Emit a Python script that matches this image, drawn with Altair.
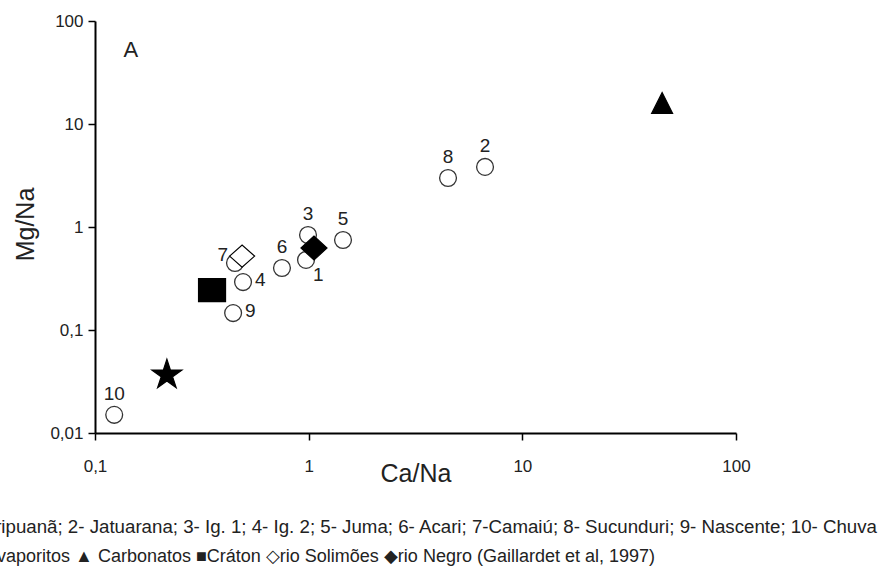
import altair as alt
import pandas as pd

# ---- data ----
sample_ids = ["1", "2", "3", "4", "5", "6", "7", "8", "9", "10"]
sample_ca = [0.972, 6.69, 0.993, 0.493, 1.448, 0.750, 0.452, 4.49, 0.443, 0.123]
sample_mg = [0.479, 3.83, 0.836, 0.292, 0.748, 0.400, 0.447, 2.99, 0.146, 0.0150]
label_side = ["below-right", "top", "top", "right", "top", "top", "left", "top", "right", "top"]

ref_names = ["Evaporitos", "Carbonatos", "Cráton", "rio Solimões", "rio Negro"]
ref_ca = [0.217, 45.1, 0.353, 0.488, 1.059]
ref_mg = [0.0366, 16.0, 0.244, 0.522, 0.625]

x_ticks = [0.1, 1, 10, 100]
y_ticks = [0.01, 0.1, 1, 10, 100]

panel_letter = ["A"]
panel_ca = [0.147]
panel_mg = [52.3]

footnote_1 = ["1- Aripuanã; 2- Jatuarana; 3- Ig. 1; 4- Ig. 2; 5- Juma; 6- Acari; 7-Camaiú; 8- Sucunduri; 9- Nascente; 10- Chuva"]
footnote_2 = ["★ Evaporitos ▲ Carbonatos ■Cráton ◇rio Solimões ◆rio Negro (Gaillardet et al, 1997)"]

# ---- styles ----
FONT = "Liberation Sans"
STAR = "M0,-1L0.2245,-0.309L0.951,-0.309L0.363,0.118L0.588,0.809L0,0.382L-0.588,0.809L-0.363,0.118L-0.951,-0.309L-0.2245,-0.309Z"
TRI = "M0,-1L1,1L-1,1Z"
SQR = "M-1,-0.85L1,-0.85L1,0.85L-1,0.85Z"
DIA_OPEN = "M-1,0L0,-0.88L1,0L0,0.88Z"
DIA_FILL = "M-1,0L0,-0.92L1,0L0,0.92Z"
ref_style = {
    "Evaporitos": dict(shape=STAR, size=1000, fill="black"),
    "Carbonatos": dict(shape=TRI, size=441, fill="black"),
    "Cráton": dict(shape=SQR, size=729, fill="black"),
    "rio Solimões": dict(shape=DIA_OPEN, size=625, fill="white"),
    "rio Negro": dict(shape=DIA_FILL, size=676, fill="black"),
}

samples = pd.DataFrame({"id": sample_ids, "ca": sample_ca, "mg": sample_mg, "side": label_side})
refs = pd.DataFrame({"name": ref_names, "ca": ref_ca, "mg": ref_mg})
panel = pd.DataFrame({"t": panel_letter, "ca": panel_ca, "mg": panel_mg})

label_expr = "replace(toString(datum.value), '.', ',')"

x_enc = alt.X(
    "ca:Q",
    scale=alt.Scale(type="log", domain=[0.1, 100], nice=False),
    axis=alt.Axis(
        values=x_ticks, labelExpr=label_expr, title="Ca/Na", grid=False,
        labelFlush=False, labelPadding=18, titleY=40, titleBaseline="middle",
        titleFontSize=25, titleFontWeight="normal",
    ),
)
y_enc = alt.Y(
    "mg:Q",
    scale=alt.Scale(type="log", domain=[0.01, 100], nice=False),
    axis=alt.Axis(
        values=y_ticks, labelExpr=label_expr, title="Mg/Na", grid=False,
        labelFlush=False, labelPadding=5, titleX=-70, titleY=203, titleAngle=270,
        titleBaseline="middle", titleAlign="center", titleFontSize=25,
        titleFontWeight="normal",
    ),
)

circles = alt.Chart(samples).mark_point(
    shape="circle", size=283, filled=False, fill="white", fillOpacity=1,
    stroke="#333333", strokeWidth=1.3, opacity=1,
).encode(x=x_enc, y=y_enc)


def labels(side, **kw):
    return alt.Chart(samples).transform_filter(
        alt.datum.side == side
    ).mark_text(font=FONT, fontSize=19, color="#222222", **kw).encode(
        x="ca:Q", y="mg:Q", text="id:N"
    )


lab_top = labels("top", dy=-21, baseline="middle", align="center")
lab_right = labels("right", dx=12, dy=-2, baseline="middle", align="left")
lab_left = labels("left", dx=-7, dy=-8, baseline="middle", align="right")
lab_br = labels("below-right", dx=7, dy=15, baseline="middle", align="left")

ref_layers = []
for name in ref_names:
    st = ref_style[name]
    ref_layers.append(
        alt.Chart(refs).transform_filter(alt.datum.name == name).mark_point(
            shape=st["shape"], size=st["size"], filled=True, fill=st["fill"],
            stroke="black", strokeWidth=1.2, opacity=1, fillOpacity=1,
        ).encode(x="ca:Q", y="mg:Q")
    )

letter = alt.Chart(panel).mark_text(font=FONT, fontSize=22, color="#222222").encode(
    x="ca:Q", y="mg:Q", text="t:N"
)

foot1 = alt.Chart(pd.DataFrame({"t": footnote_1})).mark_text(
    font=FONT, fontSize=18.7, color="#222222", align="right", baseline="alphabetic"
).encode(x=alt.value(782), y=alt.value(512), text="t:N")

foot2 = alt.Chart(pd.DataFrame({"t": footnote_2})).mark_text(
    font=FONT, fontSize=18, color="#222222", align="right", baseline="alphabetic"
).encode(x=alt.value(560), y=alt.value(541), text="t:N")

chart = alt.layer(
    circles, *ref_layers, lab_top, lab_right, lab_left, lab_br, letter, foot1, foot2
).properties(
    width=641, height=412,
    padding={"left": 95, "top": 21, "right": 146, "bottom": 137},
    autosize=alt.AutoSizeParams(type="none"),
    background="white",
).configure_view(stroke=None).configure_axis(
    domainColor="black", domainWidth=2, tickColor="black", tickWidth=1.5, tickSize=7,
    labelFont=FONT, labelFontSize=17, labelColor="#222222",
    titleFont=FONT, titleColor="#222222",
)

chart.save("out.html", embed_options={"renderer": "svg", "actions": False})
